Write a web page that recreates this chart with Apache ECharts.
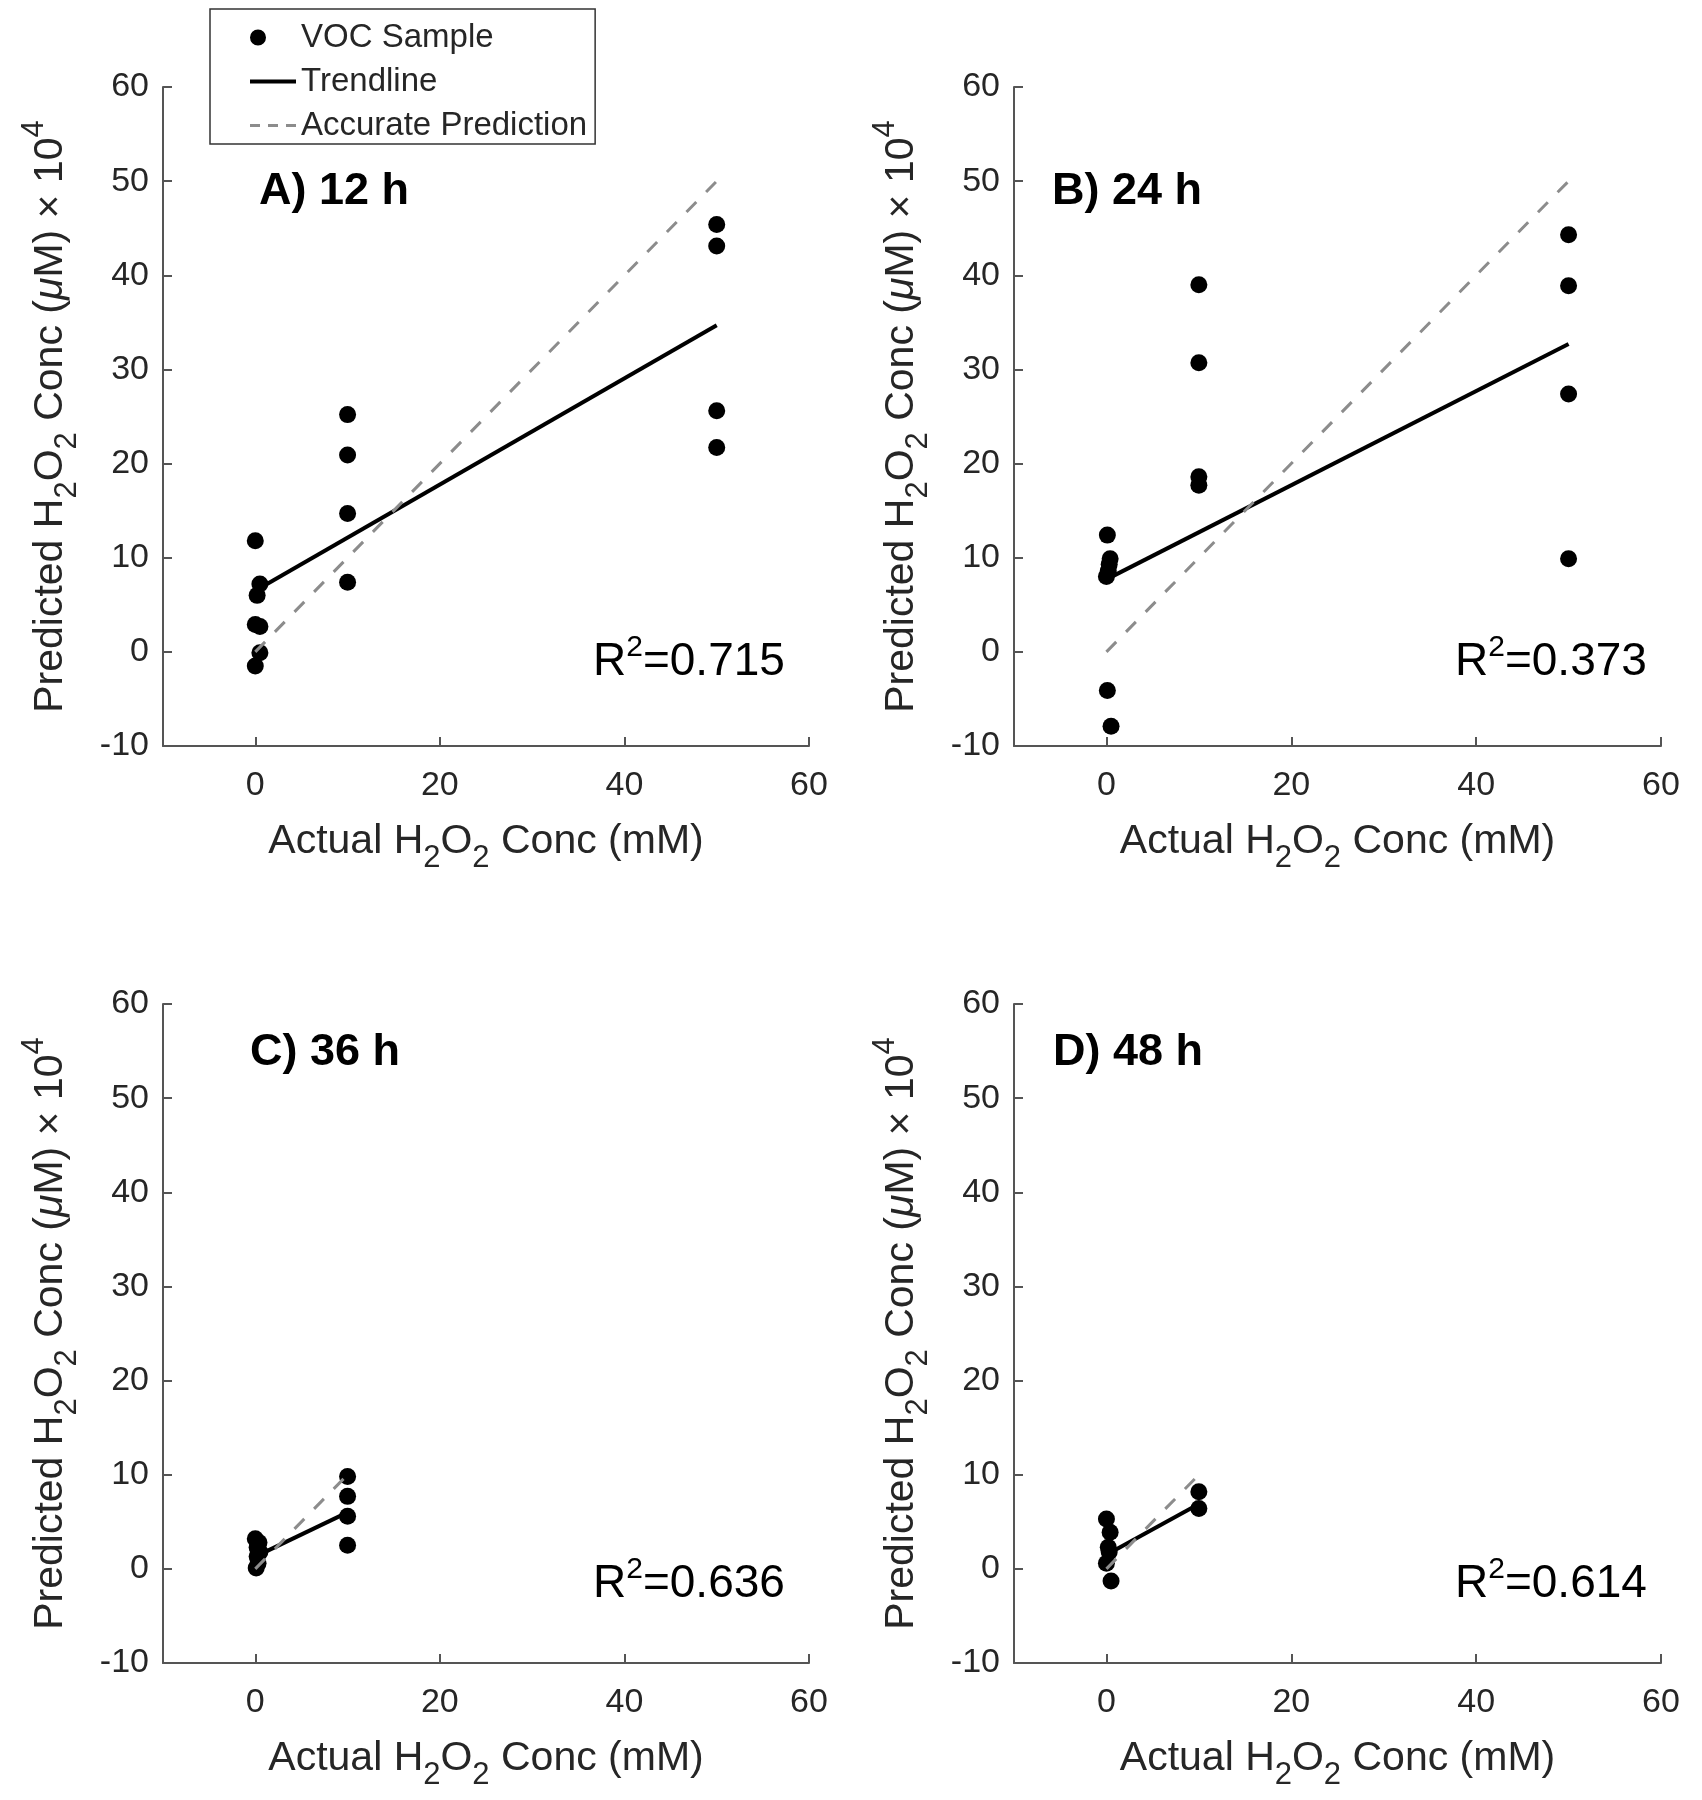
<!DOCTYPE html>
<html><head><meta charset="utf-8">
<script src="https://cdn.jsdelivr.net/npm/echarts@6/dist/echarts.min.js"></script>
<style>html,body{margin:0;padding:0;background:#fff;}#c{width:1702px;height:1800px;}</style>
</head><body><div id="c"></div>
<script>
// ---- data ----
const panelLabels = ['A) 12 h', 'B) 24 h', 'C) 36 h', 'D) 48 h'];
const r2Labels = ['0.715', '0.373', '0.636', '0.614'];
const xTicks = [0, 20, 40, 60];

const xA = [0, 0.5, 0.2, 0, 0.5, 0.5, 0, 10, 10, 10, 10, 50, 50, 50, 50];
const yA = [11.8, 7.2, 6.0, 2.9, 2.7, -0.1, -1.5, 25.2, 20.9, 14.7, 7.4, 45.4, 43.1, 25.6, 21.7];
const xB = [0.1, 0.4, 0.3, 0.2, 0, 0.1, 0.5, 10, 10, 10, 10, 50, 50, 50, 50];
const yB = [12.4, 9.9, 9.3, 8.6, 8.0, -4.1, -7.9, 39.0, 30.7, 18.6, 17.7, 44.3, 38.9, 27.4, 9.9];
const xC = [0, 0.4, 0.2, 0.5, 0.2, 0.3, 0.1, 10, 10, 10, 10];
const yC = [3.2, 2.8, 2.3, 1.8, 1.3, 0.6, 0.1, 9.8, 7.7, 5.6, 2.5];
const xD = [0, 0.4, 0.2, 0.3, 0, 0.5, 10, 10];
const yD = [5.3, 3.9, 2.3, 1.8, 0.6, -1.3, 8.2, 6.4];

const trendXA = [0, 50], trendYA = [6.5, 34.7];
const trendXB = [0, 50], trendYB = [7.7, 32.7];
const trendXC = [0, 10], trendYC = [1.3, 6.0];
const trendXD = [0, 10], trendYD = [1.5, 6.9];

const accXA = [0, 50], accYA = [0, 50];
const accXB = [0, 50], accYB = [0, 50];
const accXC = [0, 10], accYC = [0, 10];
const accXD = [0, 10], accYD = [0, 10];

// ---- layout / style ----
const FONT = "'Liberation Sans', Arial, Helvetica, sans-serif";
const TXT = '#262626';
const AX = '#555555';
const grids = [
  {left: 163, top: 87, width: 646, height: 659},
  {left: 1014, top: 87, width: 647, height: 659},
  {left: 163, top: 1004, width: 646, height: 659},
  {left: 1014, top: 1004, width: 647, height: 659}
];
const titlePos = [[259, 167], [1052, 167], [250, 1028], [1053, 1028]];
const r2Pos = [[593, 633], [1455, 633], [593, 1555], [1455, 1555]];

const panels = [
  {x: xA, y: yA, tx: trendXA, ty: trendYA, ax: accXA, ay: accYA},
  {x: xB, y: yB, tx: trendXB, ty: trendYB, ax: accXB, ay: accYB},
  {x: xC, y: yC, tx: trendXC, ty: trendYC, ax: accXC, ay: accYC},
  {x: xD, y: yD, tx: trendXD, ty: trendYD, ax: accXD, ay: accYD}
];
const pairs = (xs, ys) => xs.map((v, i) => [v, ys[i]]);

const nameRich = {
  a: {fontSize: 41, fontFamily: FONT, color: TXT, lineHeight: 41},
  s: {fontSize: 31, fontFamily: FONT, color: TXT, padding: [34, 0, 0, 0]},
  p: {fontSize: 31, fontFamily: FONT, color: TXT, padding: [0, 0, 32, 0]},
  m: {fontSize: 41, fontFamily: FONT, color: TXT, fontStyle: 'italic', lineHeight: 41}
};

const xAxes = grids.map((g, i) => ({
  type: 'value', gridIndex: i, min: -10, max: 60,
  axisLine: {onZero: false, lineStyle: {color: AX, width: 2}},
  axisTick: {inside: true, length: 9, customValues: xTicks, lineStyle: {color: AX, width: 2}},
  axisLabel: {customValues: xTicks, fontSize: 34, fontFamily: FONT, color: TXT, margin: 23},
  splitLine: {show: false},
  name: '{a|Actual H}{s|2}{a|O}{s|2}{a| Conc (mM)}',
  nameLocation: 'middle', nameGap: 63, nameMoveOverlap: false,
  nameTextStyle: {rich: nameRich}
}));
const yAxes = grids.map((g, i) => ({
  type: 'value', gridIndex: i, min: -10, max: 60, interval: 10,
  axisLine: {onZero: false, lineStyle: {color: AX, width: 2}},
  axisTick: {inside: true, length: 9, lineStyle: {color: AX, width: 2}},
  axisLabel: {fontSize: 34, fontFamily: FONT, color: TXT, margin: 14},
  splitLine: {show: false},
  name: '{a|Predicted H}{s|2}{a|O}{s|2}{a| Conc (}{m|μ}{a|M) × 10}{p|4}',
  nameLocation: 'middle', nameGap: 80, nameRotate: 90, nameMoveOverlap: false,
  nameTextStyle: {rich: nameRich}
}));

const series = [];
panels.forEach((p, i) => {
  series.push({
    name: 'VOC Sample', type: 'scatter', xAxisIndex: i, yAxisIndex: i,
    data: pairs(p.x, p.y), symbol: 'circle', symbolSize: 17,
    itemStyle: {color: '#000', opacity: 1}
  });
  series.push({
    name: 'Trendline', type: 'line', xAxisIndex: i, yAxisIndex: i,
    data: pairs(p.tx, p.ty), symbol: 'none', showSymbol: false,
    lineStyle: {color: '#000', width: 4, type: 'solid'}, itemStyle: {color: '#000'}
  });
  series.push({
    name: 'Accurate Prediction', type: 'line', xAxisIndex: i, yAxisIndex: i,
    data: pairs(p.ax, p.ay), symbol: 'none', showSymbol: false,
    lineStyle: {color: '#8c8c8c', width: 3, type: [14, 14]}, itemStyle: {color: '#8c8c8c'}
  });
});

const titles = [];
panelLabels.forEach((t, i) => {
  titles.push({text: t, left: titlePos[i][0], top: titlePos[i][1], padding: 0,
    textStyle: {fontSize: 45, fontWeight: 'bold', fontFamily: FONT, color: '#000', lineHeight: 50}});
});
r2Labels.forEach((t, i) => {
  titles.push({text: '{r|R}{s|2}{r|=' + t + '}', left: r2Pos[i][0], top: r2Pos[i][1], padding: 0,
    textStyle: {fontWeight: 'normal', rich: {
      r: {fontSize: 46, fontWeight: 'normal', fontFamily: FONT, color: '#000', lineHeight: 58},
      s: {fontSize: 30, fontWeight: 'normal', fontFamily: FONT, color: '#000', padding: [0, 0, 28, 0]}
    }}});
});

// legend icons (shape only; bounding box spans the full icon width)
const dotIcon = 'path://M0,8A8,8,0,1,1,16,8A8,8,0,1,1,0,8Z M46,0L46,16L46,0Z';
const solidIcon = 'path://M0,6h46v4h-46z M0,0L0,16L0,0Z';
const dashIcon = 'path://M0,6.5h10v3h-10z M18,6.5h10v3h-10z M36,6.5h10v3h-10z M0,0L0,16L0,0Z';

const chart = echarts.init(document.getElementById('c'), null, {renderer: 'canvas'});
chart.setOption({
  backgroundColor: '#fff',
  animation: false,
  title: titles,
  grid: grids.map(g => Object.assign({containLabel: false, outerBoundsMode: 'none'}, g)),
  xAxis: xAxes,
  yAxis: yAxes,
  legend: {
    data: [
      {name: 'VOC Sample', icon: dotIcon},
      {name: 'Trendline', icon: solidIcon},
      {name: 'Accurate Prediction', icon: dashIcon}
    ],
    orient: 'vertical', left: 210, top: 9,
    padding: [12, 8, 2, 40], itemGap: 11, itemWidth: 46, itemHeight: 16,
    symbolKeepAspect: true,
    borderColor: '#333', borderWidth: 1.5, backgroundColor: '#fff',
    textStyle: {fontSize: 33, fontFamily: FONT, color: TXT},
    itemStyle: {borderWidth: 0}
  },
  series: series
});
</script></body></html>
